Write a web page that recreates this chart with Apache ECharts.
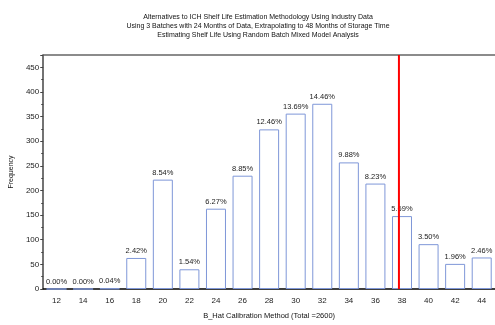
<!DOCTYPE html>
<html>
<head>
<meta charset="utf-8">
<script src="https://cdn.jsdelivr.net/npm/echarts@6/dist/echarts.min.js"></script>
<style>
  html, body { margin: 0; padding: 0; background: #fff; }
  #chart { width: 495px; height: 325px; }
</style>
</head>
<body>
<div id="chart"></div>
<script>
// Shelf-life estimates (months), binned in 2-month steps
const categories = ['12','14','16','18','20','22','24','26','28','30','32','34','36','38','40','42','44'];
// Number of simulations falling in each bin
const counts = [0, 0, 1, 63, 222, 40, 163, 230, 324, 356, 376, 257, 214, 148, 91, 51, 64];
const total = 2600;
// Reference shelf life marked by the vertical red line
const referenceLife = 37.77;
const titleLines = [
  'Alternatives to ICH Shelf Life Estimation Methodology Using Industry Data',
  'Using 3 Batches with 24 Months of Data, Extrapolating to 48 Months of Storage Time',
  'Estimating Shelf Life Using Random Batch Mixed Model Analysis'
];

const font = 'Liberation Sans, Arial, sans-serif';
const chart = echarts.init(document.getElementById('chart'), null, { renderer: 'canvas' });

chart.setOption({
  animation: false,
  backgroundColor: '#fff',
  title: {
    text: titleLines.join('\n'),
    left: 253,
    textAlign: 'center',
    top: 8,
    textStyle: { fontFamily: font, fontSize: 7, fontWeight: 'normal', color: '#111', lineHeight: 9 }
  },
  grid: { left: 41, right: -6, top: 55, bottom: 32, containLabel: false },
  xAxis: [
    {
      type: 'category',
      data: categories,
      name: 'B_Hat Calibration Method (Total =' + total + ')',
      nameLocation: 'middle',
      nameGap: 23,
      nameTextStyle: { fontFamily: font, fontSize: 7.5, color: '#111' },
      axisLine: { lineStyle: { color: '#000', width: 1.5 } },
      axisTick: { show: false },
      axisLabel: { fontFamily: font, fontSize: 8, color: '#222', margin: 8 }
    },
    {
      // continuous scale over the same span, used for the reference line and top frame
      type: 'value',
      position: 'top',
      min: 11,
      max: 11 + 2 * categories.length,
      axisLine: { show: true, lineStyle: { color: '#666', width: 1.5 } },
      axisTick: { show: false },
      axisLabel: { show: false },
      splitLine: { show: false }
    }
  ],
  yAxis: {
    type: 'value',
    min: 0,
    max: 475,
    interval: 50,
    name: 'Frequency',
    nameLocation: 'middle',
    nameGap: 27,
    nameTextStyle: { fontFamily: font, fontSize: 7, color: '#111' },
    axisLine: { show: true, lineStyle: { color: '#444', width: 1.5 } },
    axisTick: { show: true, length: 3, lineStyle: { color: '#444' } },
    minorTick: { show: true, splitNumber: 2, length: 2, lineStyle: { color: '#444' } },
    axisLabel: { fontFamily: font, fontSize: 8, color: '#222', margin: 4, showMaxLabel: false },
    splitLine: { show: false }
  },
  series: [
    {
      type: 'bar',
      data: counts,
      barWidth: 20,
      itemStyle: { color: '#fff', borderColor: '#7f97d8', borderWidth: 1 },
      label: {
        show: true,
        position: 'top',
        distance: 3,
        fontFamily: font,
        fontSize: 7.5,
        color: '#222',
        formatter: p => (p.value / total * 100).toFixed(2) + '%'
      }
    },
    {
      type: 'line',
      xAxisIndex: 1,
      data: [[referenceLife, 0], [referenceLife, 475]],
      symbol: 'none',
      lineStyle: { color: '#ff0000', width: 2 },
      z: 5
    }
  ]
});
</script>
</body>
</html>
